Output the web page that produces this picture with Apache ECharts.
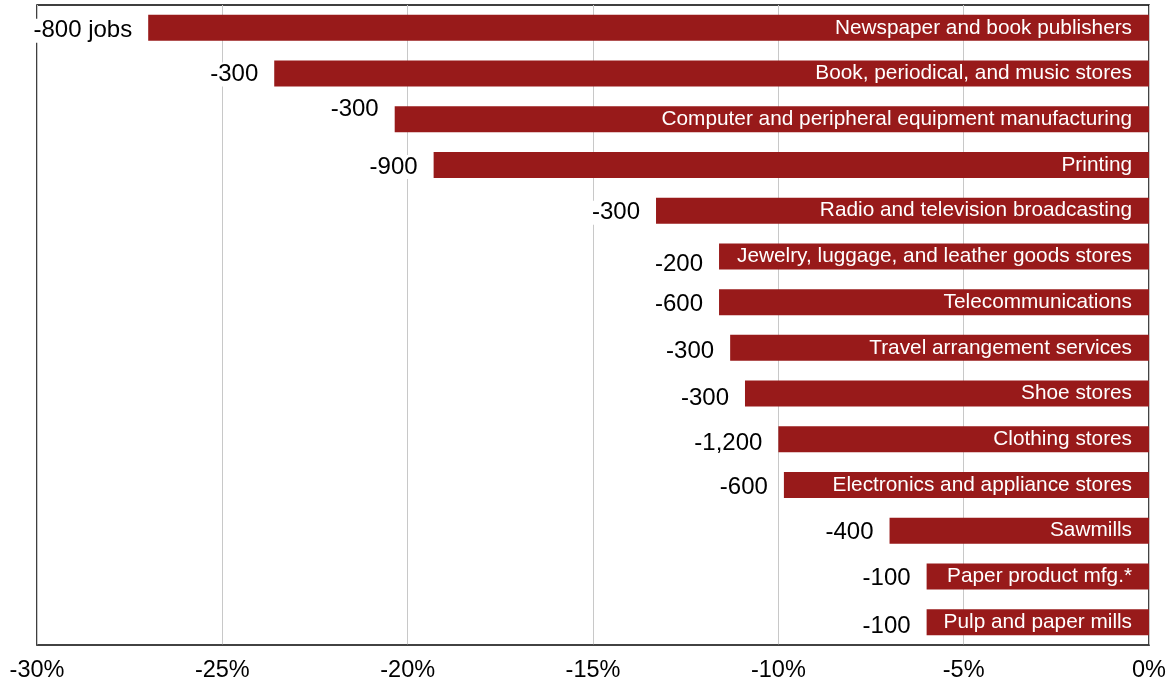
<!DOCTYPE html>
<html><head><meta charset="utf-8">
<script src="https://cdn.jsdelivr.net/npm/echarts@6/dist/echarts.min.js"></script>
<style>html,body{margin:0;padding:0;background:#fff}#c{width:1169px;height:685px}</style>
</head><body><div id="c"></div>
<script>
var categories = ["Newspaper and book publishers", "Book, periodical, and music stores", "Computer and peripheral equipment manufacturing", "Printing", "Radio and television broadcasting", "Jewelry, luggage, and leather goods stores", "Telecommunications", "Travel arrangement services", "Shoe stores", "Clothing stores", "Electronics and appliance stores", "Sawmills", "Paper product mfg.*", "Pulp and paper mills"];
var pctChange = [-27.0, -23.6, -20.35, -19.3, -13.3, -11.6, -11.6, -11.3, -10.9, -10.0, -9.85, -7.0, -6.0, -6.0];
var jobsChange = [-800, -300, -300, -900, -300, -200, -600, -300, -300, -1200, -600, -400, -100, -100];
var xTicks = [-30, -25, -20, -15, -10, -5, 0];

var labelYOffset = {0: 3, 1: 1, 2: -10, 5: 8, 7: 4, 8: 5, 9: 4, 13: 4};
function fmtJobs(v, i) {
  var s = (v < 0 ? '-' : '') + Math.abs(v).toLocaleString('en-US');
  return i === 0 ? s + ' jobs' : s;
}
var chart = echarts.init(document.getElementById('c'));
var font = 'Liberation Sans, Arial, sans-serif';
chart.setOption({
  animation: false,
  grid: {left: 37, right: 19, top: 5, bottom: 40, show: true, borderColor: '#000', borderWidth: 1.5},
  xAxis: {
    type: 'value', min: -30, max: 0, interval: 5,
    axisLine: {show: true, lineStyle: {color: '#444', width: 1.5}},
    axisTick: {show: false},
    splitLine: {show: true, lineStyle: {color: '#c8c8c8', width: 1}},
    axisLabel: {fontFamily: font, fontSize: 23.5, color: '#000', margin: 14,
      formatter: function (v) { return xTicks.indexOf(v) >= 0 ? v + '%' : ''; }}
  },
  yAxis: {
    type: 'category', data: categories, inverse: true,
    axisLine: {show: false}, axisTick: {show: false}, axisLabel: {show: false}, splitLine: {show: false}
  },
  series: [
    {
      type: 'bar', data: pctChange, barWidth: 26, z: 2,
      itemStyle: {color: '#981a1a'},
      label: {show: true, position: 'insideRight', distance: 17, color: '#fff', fontFamily: font, fontSize: 20.8,
        formatter: function (p) { return categories[p.dataIndex]; }}
    },
    {
      type: 'bar', barGap: '-100%', barWidth: 26, z: 3,
      data: pctChange.map(function (v, i) {
        return {value: v, label: {offset: [0, labelYOffset[i] !== undefined ? labelYOffset[i] : 2]}};
      }),
      itemStyle: {color: 'rgba(0,0,0,0)'},
      label: {show: true, position: 'left', distance: 14, color: '#000', fontFamily: font, fontSize: 24,
        backgroundColor: '#fff', padding: [0, 2, 0, 1],
        formatter: function (p) { return fmtJobs(jobsChange[p.dataIndex], p.dataIndex); }}
    }
  ]
});
</script></body></html>
